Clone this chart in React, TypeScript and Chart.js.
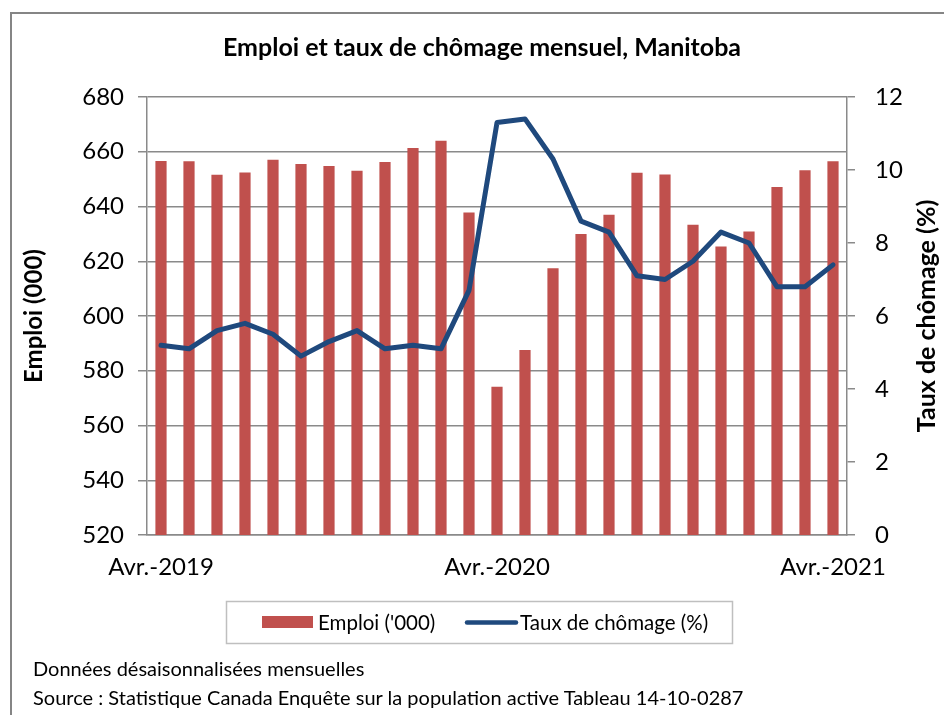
import React, { useEffect, useRef } from "react";
import { Chart, registerables } from "chart.js";
Chart.register(...registerables);

const TITLE = "Emploi et taux de chômage mensuel, Manitoba";
const LEFT_TITLE = "Emploi (000)";
const RIGHT_TITLE = "Taux de chômage (%)";
const NOTE1 = "Données désaisonnalisées mensuelles";
const NOTE2 = "Source : Statistique Canada Enquête sur la population active Tableau 14-10-0287";

const months = [
  "Avr.-2019", "Mai-2019", "Juin-2019", "Juil.-2019", "Août-2019", "Sept.-2019",
  "Oct.-2019", "Nov.-2019", "Déc.-2019", "Janv.-2020", "Févr.-2020", "Mars-2020",
  "Avr.-2020", "Mai-2020", "Juin-2020", "Juil.-2020", "Août-2020", "Sept.-2020",
  "Oct.-2020", "Nov.-2020", "Déc.-2020", "Janv.-2021", "Févr.-2021", "Mars-2021",
  "Avr.-2021",
];
const shownLabels = ["Avr.-2019", "Avr.-2020", "Avr.-2021"];

const emploi = [
  656.6, 656.5, 651.6, 652.4, 657.1, 655.5, 654.8, 653.1, 656.3, 661.4, 664.0, 637.8,
  574.2, 587.6, 617.4, 630.0, 637.0, 652.3, 651.7, 633.3, 625.4, 630.9, 647.1, 653.2,
  656.5,
];
const chomage = [
  5.2, 5.1, 5.6, 5.8, 5.5, 4.9, 5.3, 5.6, 5.1, 5.2, 5.1, 6.7,
  11.3, 11.4, 10.3, 8.6, 8.3, 7.1, 7.0, 7.5, 8.3, 8.0, 6.8, 6.8,
  7.4,
];

const FONT = "Lato";
const RED = "#C0504D";
const BLUE = "#1F497D";
const GRID = "#8a8a8a";

const overlay = {
  id: "overlay",
  afterDraw(chart: any) {
    const ctx = chart.ctx as CanvasRenderingContext2D;
    const ca = chart.chartArea;
    const midY = (ca.top + ca.bottom) / 2;
    ctx.save();
    ctx.fillStyle = "#000";
    ctx.textBaseline = "middle";
    ctx.textAlign = "center";
    // title
    ctx.font = `bold 25px ${FONT}`;
    ctx.fillText(TITLE, 482, 48);
    // axis titles
    ctx.save();
    ctx.font = `bold 24px ${FONT}`;
    ctx.translate(34, midY);
    ctx.rotate(-Math.PI / 2);
    ctx.fillText(LEFT_TITLE, 0, 0);
    ctx.restore();
    ctx.save();
    ctx.font = `bold 25px ${FONT}`;
    ctx.translate(927, midY);
    ctx.rotate(-Math.PI / 2);
    ctx.fillText(RIGHT_TITLE, 0, 0);
    ctx.restore();
    // legend
    const ds = chart.data.datasets;
    ctx.strokeStyle = "#bfbfbf";
    ctx.lineWidth = 1.5;
    ctx.strokeRect(226.5, 601.5, 506, 42);
    ctx.font = `20.5px ${FONT}`;
    ctx.textAlign = "left";
    ctx.fillStyle = ds[0].backgroundColor;
    ctx.fillRect(262, 616, 51, 12);
    ctx.fillStyle = "#000";
    ctx.fillText(ds[0].label, 318, 623);
    ctx.strokeStyle = ds[1].borderColor;
    ctx.lineWidth = 4.5;
    ctx.lineCap = "round";
    ctx.beginPath();
    ctx.moveTo(467, 622.5);
    ctx.lineTo(516, 622.5);
    ctx.stroke();
    ctx.fillText(ds[1].label, 520, 623);
    ctx.restore();
  },
};

export default function App() {
  const ref = useRef<HTMLCanvasElement | null>(null);
  useEffect(() => {
    if (!ref.current) return;
    const chart = new Chart(ref.current, {
      type: "bar",
      data: {
        labels: months,
        datasets: [
          {
            type: "bar",
            label: "Emploi ('000)",
            data: emploi,
            backgroundColor: RED,
            borderWidth: 0,
            barPercentage: 0.4,
            categoryPercentage: 1.0,
            yAxisID: "y",
            order: 2,
          } as any,
          {
            type: "line",
            label: "Taux de chômage (%)",
            data: chomage,
            borderColor: BLUE,
            backgroundColor: BLUE,
            borderWidth: 5,
            pointRadius: 0,
            tension: 0,
            borderCapStyle: "round",
            borderJoinStyle: "round",
            yAxisID: "y1",
            order: 1,
          } as any,
        ],
      },
      options: {
        responsive: false,
        animation: false,
        devicePixelRatio: 1,
        layout: { padding: { left: 0, right: 0, top: 97, bottom: 130 } },
        plugins: {
          legend: { display: false },
          title: { display: false },
          tooltip: { enabled: false },
        },
        scales: {
          x: {
            offset: true,
            grid: { display: false, drawTicks: false },
            border: { display: true, color: GRID, width: 1.5 },
            ticks: {
              autoSkip: false,
              maxRotation: 0,
              minRotation: 0,
              padding: 18,
              color: "#000",
              font: { family: FONT, size: 24 },
              callback: (_v: any, i: number) =>
                shownLabels.includes(months[i]) ? months[i] : null,
            },
            afterFit: (s: any) => {
              s.height = 50;
            },
          },
          y: {
            position: "left",
            min: 520,
            max: 680,
            ticks: {
              stepSize: 20,
              padding: 14,
              color: "#000",
              font: { family: FONT, size: 24 },
            },
            grid: { color: GRID, lineWidth: 1.5, drawTicks: true, tickLength: 9 },
            border: { display: true, color: GRID, width: 1.5 },
            afterFit: (s: any) => {
              s.width = 147;
            },
          },
          y1: {
            position: "right",
            min: 0,
            max: 12,
            ticks: {
              stepSize: 2,
              padding: 20,
              color: "#000",
              font: { family: FONT, size: 24 },
            },
            grid: {
              color: GRID,
              lineWidth: 1.5,
              drawOnChartArea: false,
              drawTicks: true,
              tickLength: 8,
            },
            border: { display: true, color: GRID, width: 1.5 },
            afterFit: (s: any) => {
              s.width = 97;
            },
          },
        },
      } as any,
      plugins: [overlay],
    });
    return () => chart.destroy();
  }, []);

  return (
    <div
      style={{
        position: "absolute",
        left: 0,
        top: 0,
        width: 944,
        height: 715,
        overflow: "hidden",
        background: "#fff",
      }}
    >
      <div
        style={{
          position: "absolute",
          left: 10,
          top: 12,
          width: 1000,
          height: 1000,
          borderLeft: "2px solid #858585",
          borderTop: "2px solid #858585",
        }}
      />
      <canvas
        ref={ref}
        width={944}
        height={715}
        style={{ position: "absolute", left: 0, top: 0, display: "block" }}
      />
      <div
        style={{
          position: "absolute",
          left: 33,
          top: 654,
          fontFamily: FONT,
          fontSize: 20,
          lineHeight: "29px",
          color: "#000",
          whiteSpace: "nowrap",
        }}
      >
        <div>{NOTE1}</div>
        <div>{NOTE2}</div>
      </div>
    </div>
  );
}
